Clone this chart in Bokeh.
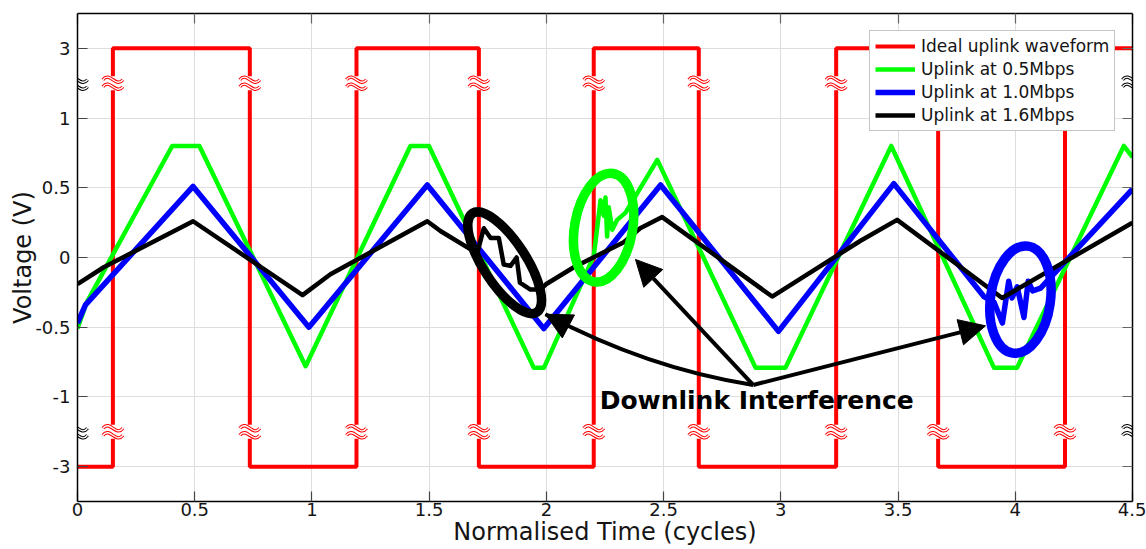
import numpy as np
from bokeh.plotting import figure
from bokeh.models import (FixedTicker, LinearAxis, Legend, LegendItem, Label,
                          Arrow, NormalHead, Range1d)
from bokeh.embed import file_html
from bokeh.resources import INLINE

# ---------------- data ----------------
# ideal uplink square wave: switching instants (cycles) and levels (V)
red_edges = [0.0, 0.151, 0.735, 1.190, 1.712, 2.202, 2.650, 3.236, 3.671, 4.212, 4.5]
red_levels = [-3, 3, -3, 3, -3, 3, -3, 3, -3, 3]

green_t = [0.0, 0.04, 0.404, 0.52, 0.973, 1.42, 1.499, 1.946, 1.99, 2.202, 2.231, 2.245,
           2.252, 2.259, 2.266, 2.281, 2.302, 2.337, 2.473, 2.892, 3.02, 3.471, 3.909,
           4.008, 4.463, 4.5]
green_v = [-0.51, -0.32, 0.80, 0.80, -0.78, 0.80, 0.80, -0.79, -0.79, 0.01, 0.41, 0.30,
           0.43, 0.15, 0.36, 0.20, 0.27, 0.32, 0.70, -0.79, -0.79, 0.80, -0.79,
           -0.79, 0.80, 0.72]

blue_t = [0.0, 0.034, 0.493, 0.987, 1.492, 1.989, 2.487, 2.99, 3.482, 3.866, 3.909, 3.945,
          3.972, 3.986, 4.008, 4.037, 4.055, 4.074, 4.108, 4.13, 4.5]
blue_v = [-0.47, -0.34, 0.51, -0.50, 0.52, -0.51, 0.52, -0.53, 0.53, -0.28, -0.32, -0.47,
          -0.17, -0.29, -0.21, -0.43, -0.17, -0.24, -0.22, -0.18, 0.49]

black_t = [0.0, 0.112, 0.493, 0.96, 1.079, 1.492, 1.548, 1.705, 1.733, 1.762, 1.797, 1.818,
           1.847, 1.873, 1.887, 1.932, 1.975, 2.0, 2.117, 2.33, 2.40, 2.494, 2.963, 3.34,
           3.496, 3.944, 4.5]
black_v = [-0.19, -0.07, 0.26, -0.27, -0.12, 0.26, 0.19, 0.03, 0.21, 0.14, 0.14, -0.05,
           -0.06, 0.0, -0.18, -0.23, -0.23, -0.19, -0.07, 0.11, 0.21, 0.29, -0.28, 0.12,
           0.27, -0.29, 0.25]

series_names = ["Ideal uplink waveform", "Uplink at 0.5Mbps",
                "Uplink at 1.0Mbps", "Uplink at 1.6Mbps"]

x_ticks = [0, 0.5, 1, 1.5, 2, 2.5, 3, 3.5, 4, 4.5]
x_tick_labels = ["0", "0.5", "1", "1.5", "2", "2.5", "3", "3.5", "4", "4.5"]
y_ticks = [-3, -1, -0.5, 0, 0.5, 1, 3]
y_tick_labels = ["-3", "-1", "-0.5", "0", "0.5", "1", "3"]
x_limits = [0, 4.5]
y_limits = [-4, 4]
break_volts = [-2, 2]          # axis-break markers sit between 1 V and 3 V
x_title = "Normalised Time (cycles)"
y_title = "Voltage (V)"

# annotations (plot coordinates)
ellipse_t = [1.822, 2.244, 4.022]
ellipse_v = [-0.038, 0.214, -0.302]
ellipse_colors = ["black", "#00ff00", "#0000ff"]
arrow_src = (2.882, -0.914)
arrow_tip_t = [1.996, 2.380, 3.873]
arrow_tip_v = [-0.407, -0.014, -0.49]
annot_text = "Downlink Interference"


# broken y axis: |v| <= 1 linear, beyond compressed 4:1
def squash(v):
    v = np.asarray(v, dtype=float)
    return np.where(np.abs(v) <= 1, v, np.sign(v) * (1 + (np.abs(v) - 1) / 4))


FONT = "DejaVu Sans"
TXT = "#141414"
FRAME_W, FRAME_H = 1055, 488

p = figure(width=1146, height=549, output_backend="svg", toolbar_location=None,
           x_range=Range1d(*x_limits),
           y_range=Range1d(*[float(v) for v in squash(y_limits)]),
           min_border_left=77, min_border_right=14, min_border_top=13,
           min_border_bottom=48)
p.background_fill_color = "white"
p.border_fill_color = "white"
p.outline_line_color = None

yt = [float(v) for v in squash(y_ticks)]
xt = [float(t) for t in x_ticks]
y_over = {t: l for t, l in zip(yt, y_tick_labels)}
x_over = {t: l for t, l in zip(xt, x_tick_labels)}

for ax in p.xaxis:
    ax.ticker = FixedTicker(ticks=xt)
    ax.major_label_overrides = x_over
    ax.major_label_standoff = 1
    ax.axis_label = x_title
    ax.axis_label_standoff = -1
for ax in p.yaxis:
    ax.ticker = FixedTicker(ticks=yt)
    ax.major_label_overrides = y_over
    ax.major_label_standoff = 7
    ax.axis_label = y_title
    ax.axis_label_standoff = -5

for ax in p.xaxis + p.yaxis:
    ax.major_tick_in = 10
    ax.major_tick_out = 0
    ax.minor_tick_line_color = None
    ax.major_tick_line_color = "#444444"
    ax.major_tick_line_width = 1.2
    ax.axis_line_color = "black"
    ax.axis_line_width = 1.5
    ax.major_label_text_font = FONT
    ax.major_label_text_font_size = "18px"
    ax.major_label_text_color = TXT
    ax.axis_label_text_font = FONT
    ax.axis_label_text_font_size = "24px"
    ax.axis_label_text_font_style = "normal"
    ax.axis_label_text_color = TXT

# mirrored ticks and frame lines on top and right
top_ax = LinearAxis(ticker=FixedTicker(ticks=xt),
                    major_label_overrides={t: "" for t in xt})
right_ax = LinearAxis(ticker=FixedTicker(ticks=yt),
                      major_label_overrides={t: "" for t in yt})
for ax in (top_ax, right_ax):
    ax.major_tick_in = 10
    ax.major_tick_out = 0
    ax.minor_tick_line_color = None
    ax.major_tick_line_color = "#666666"
    ax.major_tick_line_width = 1.2
    ax.axis_line_color = "black"
    ax.axis_line_width = 1.5
    ax.major_label_text_font_size = "0px"
    ax.major_label_standoff = 0
p.add_layout(top_ax, "above")
p.add_layout(right_ax, "right")

p.xgrid.ticker = FixedTicker(ticks=xt)
p.ygrid.ticker = FixedTicker(ticks=yt)
for g in (p.xgrid, p.ygrid):
    g.grid_line_color = "#dedede"
    g.grid_line_width = 1

# ---------------- series ----------------
red_x, red_y = [], []
for i, lvl in enumerate(red_levels):
    red_x += [red_edges[i], red_edges[i + 1]]
    red_y += [lvl, lvl]
r_red = p.line(red_x, squash(red_y), line_color="#ff0000", line_width=4)
r_green = p.line(green_t, squash(green_v), line_color="#00ff00", line_width=4.5,
                 line_join="round")
r_blue = p.line(blue_t, squash(blue_v), line_color="#0000ff", line_width=5.5,
                line_join="round")
r_black = p.line(black_t, squash(black_v), line_color="black", line_width=4.5,
                 line_join="round")

# ---------------- axis break markers (double wave "≈" drawn as curves) ----------------
px_x = (x_limits[1] - x_limits[0]) / FRAME_W
px_y = float(squash(y_limits[1]) - squash(y_limits[0])) / FRAME_H


def break_marks(xs, ys, color):
    p.rect(xs, ys, width=24, height=14, width_units="screen", height_units="screen",
           fill_color="white", line_color=None)
    d = dict(x0=[], y0=[], x1=[], y1=[], cx0=[], cy0=[], cx1=[], cy1=[])
    for x, y in zip(xs, ys):
        for off in (-3.5, 3.5):
            yy = y + off * px_y
            d["x0"].append(x - 10 * px_x); d["y0"].append(yy)
            d["x1"].append(x + 10 * px_x); d["y1"].append(yy)
            d["cx0"].append(x - 3 * px_x); d["cy0"].append(yy + 9 * px_y)
            d["cx1"].append(x + 3 * px_x); d["cy1"].append(yy - 9 * px_y)
    p.bezier(line_color=color, line_width=3.4, **d)
    p.bezier(line_color="white", line_width=1.4, **d)


inner_edges = red_edges[1:-1]
bx = [e for e in inner_edges for _ in break_volts]
by = [float(v) for _ in inner_edges for v in squash(break_volts)]
break_marks(bx, by, "#ff0000")
ax_bx = [float(xv) for xv in x_limits for _ in break_volts]
ax_by = [float(v) for _ in x_limits for v in squash(break_volts)]
break_marks(ax_bx, ax_by, "black")

# ---------------- annotations ----------------
p.ellipse(ellipse_t, ellipse_v, width=[118, 110, 108], height=[43, 58, 60],
          angle=[-57, 80, 82], angle_units="deg", width_units="screen",
          height_units="screen", fill_alpha=0, line_color=ellipse_colors,
          line_width=9.5)

# curved arrow to the black ellipse
cx, cy = 2.432, -0.796
p.quadratic(x0=[arrow_src[0]], y0=[arrow_src[1]], x1=[arrow_tip_t[0]],
            y1=[arrow_tip_v[0]], cx=[cx], cy=[cy], line_color="black", line_width=4)
p.add_layout(Arrow(x_start=cx, y_start=cy, x_end=arrow_tip_t[0], y_end=arrow_tip_v[0],
                   line_alpha=0,
                   end=NormalHead(size=26, fill_color="black", line_color="black")))
for tx, ty in zip(arrow_tip_t[1:], arrow_tip_v[1:]):
    p.add_layout(Arrow(x_start=arrow_src[0], y_start=arrow_src[1], x_end=tx, y_end=ty,
                       line_color="black", line_width=4,
                       end=NormalHead(size=26, fill_color="black", line_color="black")))

p.add_layout(Label(x=2.897, y=-1.026, text=annot_text, text_align="center",
                   text_baseline="middle", text_font=FONT, text_font_size="25px",
                   text_font_style="bold", text_color="black"))

# ---------------- legend ----------------
legend = Legend(items=[LegendItem(label=n, renderers=[r]) for n, r in
                       zip(series_names, [r_red, r_green, r_blue, r_black])],
                location=(792, 370), margin=0, padding=5, spacing=3,
                glyph_width=40, glyph_height=20, label_height=20, label_standoff=6,
                label_text_font=FONT, label_text_font_size="17px",
                label_text_color=TXT,
                border_line_color="#8c8c8c", border_line_width=1,
                background_fill_color="white", background_fill_alpha=1)
p.add_layout(legend)

open("out.html", "w").write(file_html(p, INLINE))
